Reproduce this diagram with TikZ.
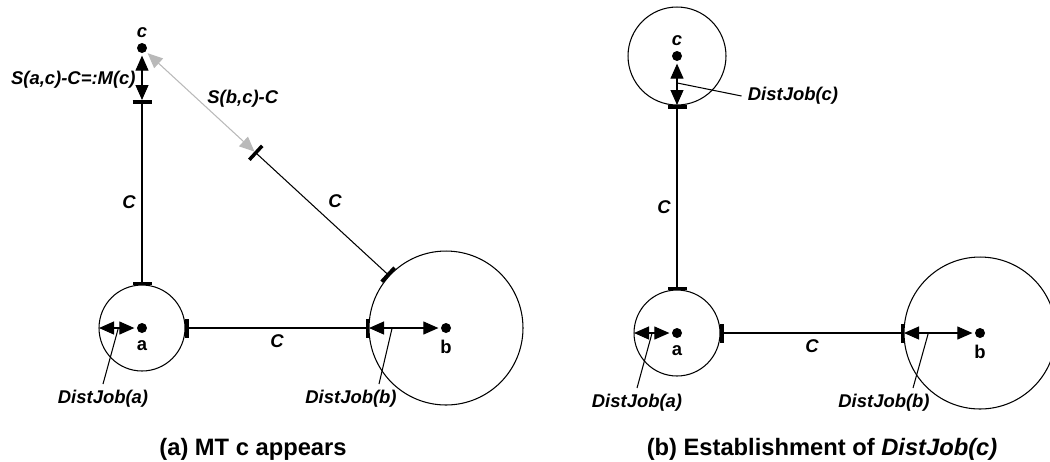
\documentclass[tikz,border=0pt]{standalone}
\usepackage{fontspec}
\setmainfont{Liberation Sans}
\definecolor{ltgray}{RGB}{185,185,185}
\usetikzlibrary{arrows.meta,calc}
\tikzset{
  hd/.tip={Triangle[length=0.3cm,width=0.26cm]},
  tk/.tip={Bar[width=0.38cm,line width=2pt]},
  zone/.style={circle, draw, inner sep=0pt, outer sep=0pt, minimum size=#1},
  site/.style={circle, fill, inner sep=0pt, outer sep=1.5pt, minimum size=0.2cm},
  lbl/.style={font=\fontsize{10.5}{12}\selectfont\bfseries\itshape},
  tag/.style={font=\fontsize{10.5}{12}\selectfont\bfseries},
  captxt/.style={font=\fontsize{13.5}{16}\selectfont\bfseries}
}

\begin{document}
\begin{tikzpicture}[x=0.02cm, y=-0.02cm, line width=0.6pt]
  \useasboundingbox (0,0) rectangle (1050,461);
  % (a) MT c appears
  \node[zone=1.72cm] (za) at (142,328) {};
  \node[zone=3.08cm] (zb) at (446,328) {};
  \node[site] (a) at (142,328) {};
  \node[site] (b) at (446,328) {};
  \node[site] (c) at (142,48) {};
  \node[tag, below=-1pt] (la) at (a.south) {a};
  \node[tag, below=-1pt] (lb) at (b.south) {b};
  \node[lbl, above=-2pt] (lc) at (c.north) {c};
  \coordinate (mc) at (142,100);
  \coordinate (tc) at ($(c)!0.37!(b)$);
  \draw[{tk}-{tk}] (za.north) -- node[lbl, left, pos=0.45] {C} (mc);
  \draw[{hd}-{hd}] (mc) -- node[lbl, left, yshift=-0.04cm] {S(a,c)-C=:M(c)} (c);
  \draw[{hd}-{hd}, ltgray] (c) -- node[lbl, black, right, yshift=0.08cm] {S(b,c)-C} (tc);
  \draw[{tk}-{tk}] (tc) -- node[lbl, above right] {C} (zb);
  \draw[{tk}-{tk}] (za.east) -- node[lbl, below] {C} (zb.west);
  \draw[{hd}-{hd}] (za.west) -- (a);
  \draw[{hd}-{hd}] (zb.west) -- (b);
  % leaders
  \coordinate (pa) at ($(za.west)!0.45!(a)$);
  \coordinate (pb) at ($(zb.west)!0.3!(b)$);
  \node[lbl] (da) at (103,399) {DistJob(a)};
  \node[lbl] (db) at (351,399) {DistJob(b)};
  \draw (pa) -- (da.north);
  \draw (pb) -- ([xshift=0.56cm]db.north);
  \node[captxt] (capa) at (253,449) {(a) MT c appears};

  % (b) Establishment of DistJob(c)
  \node[zone=1.72cm] (za2) at (677,333) {};
  \node[zone=3.04cm] (zb2) at (980,333) {};
  \node[zone=1.96cm] (zc2) at (677,56) {};
  \node[site] (a2) at (677,333) {};
  \node[site] (b2) at (980,333) {};
  \node[site] (c2) at (677,56) {};
  \node[tag, below=-1pt] (la2) at (a2.south) {a};
  \node[tag, below=-1pt] (lb2) at (b2.south) {b};
  \node[lbl, above=-2pt] (lc2) at (c2.north) {c};
  \draw[{tk}-{tk}] (za2.north) -- node[lbl, left, pos=0.45] {C} (zc2.south);
  \draw[{hd}-{hd}] (c2) -- (zc2.south);
  \draw[{tk}-{tk}] (za2.east) -- node[lbl, below] {C} (zb2.west);
  \draw[{hd}-{hd}] (za2.west) -- (a2);
  \draw[{hd}-{hd}] (zb2.west) -- (b2);
  % leaders
  \coordinate (pa2) at ($(za2.west)!0.42!(a2)$);
  \coordinate (pb2) at ($(zb2.west)!0.32!(b2)$);
  \coordinate (pc2) at ($(c2)!0.55!(zc2.south)$);
  \node[lbl] (da2) at (637,403) {DistJob(a)};
  \node[lbl] (db2) at (884,403) {DistJob(b)};
  \node[lbl] (dc2) at (793,96) {DistJob(c)};
  \draw (pa2) -- (da2.north);
  \draw (pb2) -- ([xshift=0.58cm]db2.north);
  \draw (pc2) -- (dc2.west);
  \node[captxt] (capb) at (822,449) {(b) Establishment of \textit{DistJob(c)}};
\end{tikzpicture}
\end{document}
